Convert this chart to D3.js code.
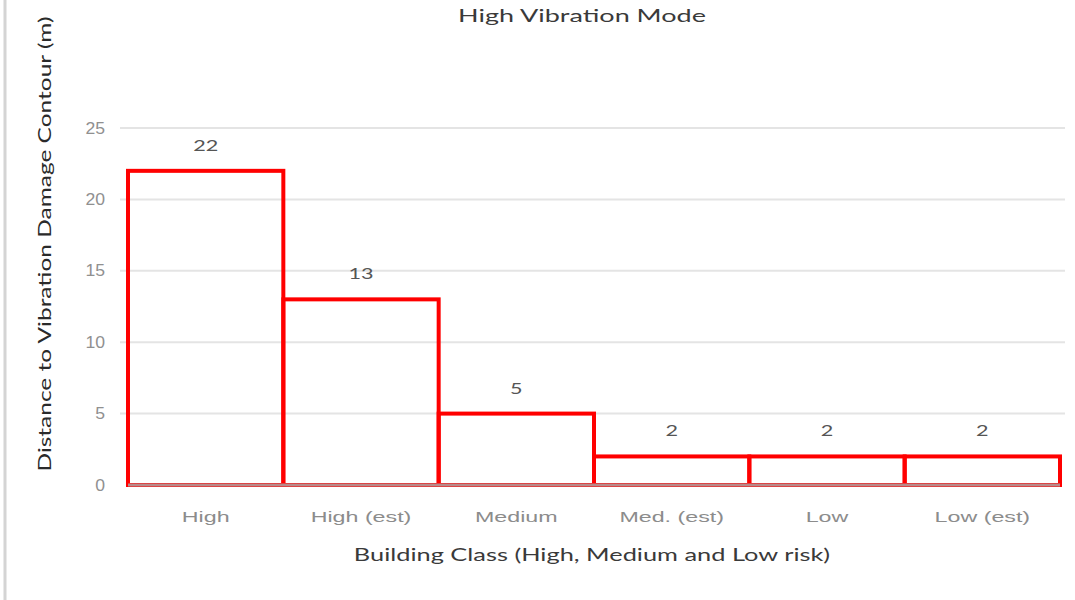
<!DOCTYPE html>
<html>
<head>
<meta charset="utf-8">
<script src="https://cdn.jsdelivr.net/npm/d3@7/dist/d3.min.js"></script>
<style>
  html, body { margin: 0; padding: 0; background: #fff; }
  svg { display: block; font-family: Lato, "Liberation Sans", Arial, sans-serif; }
</style>
</head>
<body>
<svg id="chart" width="1075" height="600"></svg>
<script>
// Building classes and distance to the vibration damage contour (m)
const categories = ["High", "High (est)", "Medium", "Med. (est)", "Low", "Low (est)"];
const distances = [22, 13, 5, 2, 2, 2];
const yTicks = [0, 5, 10, 15, 20, 25];

const titleText = "High Vibration Mode";
const xTitle = "Building Class (High, Medium and Low risk)";
const yTitle = "Distance to Vibration Damage Contour (m)";

const svg = d3.select("#chart");
const W = 1075, H = 600;
const m = { left: 128, right: 15, top: 128, bottom: 115 };

const x = d3.scaleBand().domain(categories).range([m.left, W - m.right]).padding(0);
const y = d3.scaleLinear().domain([0, 25]).range([H - m.bottom, m.top]);

// text is drawn in a wide face: stretch horizontally about its anchor point
function wide(sel, sx) {
  sel.each(function () {
    const t = d3.select(this);
    const ax = +t.attr("x") || 0;
    const ay = +t.attr("y") || 0;
    t.attr("transform", `translate(${ax},${ay}) scale(${sx},1) translate(${-ax},${-ay})`);
  });
}

// frame edge on the left
svg.append("line")
  .attr("x1", 5).attr("x2", 5).attr("y1", 0).attr("y2", H)
  .attr("stroke", "#d4d4d4").attr("stroke-width", 3);

// horizontal gridlines
svg.append("g")
  .selectAll("line")
  .data(yTicks.filter(d => d > 0))
  .join("line")
  .attr("x1", m.left - 8).attr("x2", W - m.right + 5)
  .attr("y1", d => y(d)).attr("y2", d => y(d))
  .attr("stroke", "#e4e4e4").attr("stroke-width", 2);

// y tick labels
const yAxis = d3.axisLeft(y).tickValues(yTicks).tickSize(0).tickPadding(23);
const gy = svg.append("g").attr("transform", `translate(${m.left},0)`).call(yAxis);
gy.select(".domain").remove();
gy.selectAll("text").attr("fill", "#909090").attr("font-size", 16).call(wide, 1.1);

// x category labels
const xAxis = d3.axisBottom(x).tickSize(0).tickPadding(26);
const gx = svg.append("g").attr("transform", `translate(0,${y(0)})`).call(xAxis);
gx.select(".domain").remove();
gx.selectAll("text").attr("fill", "#8c8c8c").attr("font-size", 15).call(wide, 1.55);

// step bars
svg.append("g")
  .selectAll("rect")
  .data(distances)
  .join("rect")
  .attr("x", (d, i) => x(categories[i]))
  .attr("width", x.bandwidth())
  .attr("y", d => y(d))
  .attr("height", d => y(0) - y(d))
  .attr("fill", "none")
  .attr("stroke", "#ff0000")
  .attr("stroke-width", 4);

// baseline
svg.append("line")
  .attr("x1", m.left).attr("x2", W - m.right)
  .attr("y1", y(0)).attr("y2", y(0))
  .attr("stroke", "#b88a8a").attr("stroke-width", 3);

// value labels
svg.append("g")
  .selectAll("text")
  .data(distances)
  .join("text")
  .attr("x", (d, i) => x(categories[i]) + x.bandwidth() / 2)
  .attr("y", d => y(d) - 20)
  .attr("text-anchor", "middle")
  .attr("fill", "#555")
  .attr("font-size", 16)
  .text(d => d)
  .call(wide, 1.35);

// chart title
svg.append("text")
  .attr("x", 582).attr("y", 22)
  .attr("text-anchor", "middle")
  .attr("fill", "#3a3a3a")
  .attr("font-size", 18)
  .text(titleText)
  .call(wide, 1.5);

// axis titles
svg.append("text")
  .attr("x", 592).attr("y", 561)
  .attr("text-anchor", "middle")
  .attr("fill", "#3a3a3a")
  .attr("font-size", 18)
  .text(xTitle)
  .call(wide, 1.41);

svg.append("text")
  .attr("transform", "translate(51,244) rotate(-90) scale(1.36,1)")
  .attr("text-anchor", "middle")
  .attr("fill", "#2a2a2a")
  .attr("font-size", 18)
  .text(yTitle);
</script>
</body>
</html>
